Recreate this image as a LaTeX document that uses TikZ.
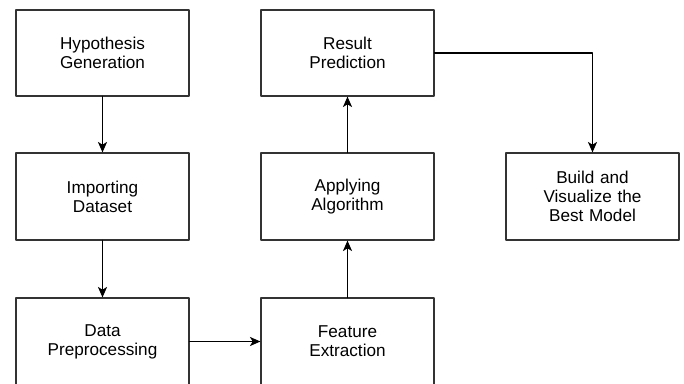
\documentclass[tikz,border=0pt]{standalone}
\usepackage{fontspec}
\setmainfont{Liberation Sans}
\usetikzlibrary{arrows.meta, positioning, calc}
\definecolor{boxline}{HTML}{333333}

\begin{document}
\begin{tikzpicture}[
    x=0.025cm, y=-0.025cm,
    line cap=round, line join=round,
    stepbox/.style={draw=boxline, fill=white, line width=0.8pt, minimum width=173*0.025cm, minimum height=87*0.025cm, text width=150*0.025cm, align=center, inner sep=0pt, font=\fontsize{12.2}{13.5}\selectfont},
    flow/.style={->, >={Stealth[length=7.5pt, width=6.5pt, inset=2pt]}, line width=0.9pt, black}
  ]
    \useasboundingbox (0,0) rectangle (684,383);

    % Columna izquierda
    \node[stepbox, minimum height=86*0.025cm] (Hypo) at (102.5, 53) {Hypothesis\\Generation};
    \node[stepbox] (Import) at (102.5, 196.5) {Importing\\Dataset};
    \node[stepbox] (Prepro) at (102.5, 341.5) {Data\\Preprocessing};

    % Columna central
    \node[stepbox] (Feature) at (347.5, 341.5) {Feature\\Extraction};
    \node[stepbox] (Algo) at (347.5, 196.5) {Applying\\Algorithm};
    \node[stepbox, minimum height=86*0.025cm] (Result) at (347.5, 53) {Result\\Prediction};

    % Modelo final
    \node[stepbox] (Model) at (592.5, 196.5) {Build and\\Visualize the\\Best Model};

    % Flujo
    \draw[flow] (Hypo.south) -- (Import.north);
    \draw[flow] (Import.south) -- (Prepro.north);
    \draw[flow] (Prepro.east) -- (Feature.west);
    \draw[flow] (Feature.north) -- (Algo.south);
    \draw[flow] (Algo.north) -- (Result.south);
    \draw[flow] (Result.east) -| (Model.north);

  \end{tikzpicture}
\end{document}
